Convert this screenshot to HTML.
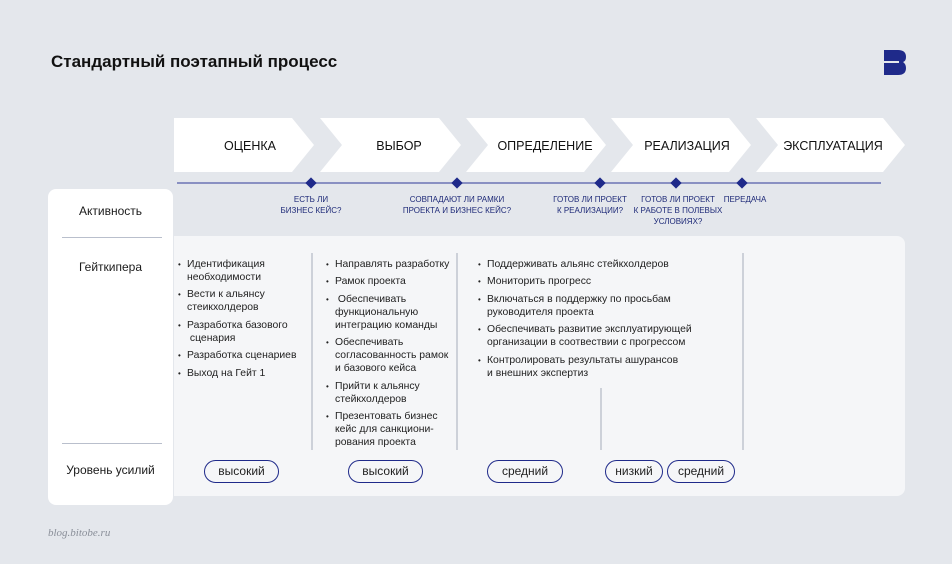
<!DOCTYPE html>
<html><head><meta charset="utf-8"><style>
body{margin:0;width:952px;height:564px;background:#e4e7ec;position:relative;overflow:hidden;font-family:"Liberation Sans","DejaVu Sans",sans-serif;color:#1a1a1a}
.a{position:absolute}
.lbl{position:absolute;font-size:12px;width:125px;text-align:center;left:48px}
.gl{position:absolute;font-size:8px;color:#1e2a78;text-align:center;line-height:11px;text-transform:uppercase;white-space:nowrap}
ul{position:absolute;margin:0;padding:0;list-style:none;font-size:10.4px;line-height:13px;color:#222}
li{position:relative;padding-left:8px;margin-bottom:4.4px}
li:before{content:"•";position:absolute;left:-1px;font-size:8px}
.pill{position:absolute;top:460px;height:21px;border:1.5px solid #1f2a8a;border-radius:12px;font-size:12px;text-align:center;line-height:21px;color:#222}
.vd{position:absolute;width:2px;background:#cdd1d9}
</style></head><body>
<div class="a" style="left:51px;top:52px;font-size:17px;font-weight:bold;color:#111">Стандартный поэтапный процесс</div>
<svg class="a" style="left:880px;top:46px" width="30" height="34"><path d="M4 4 H18 Q26 4 26 11 Q26 15 23 16 Q26 18 26 22 Q26 29 18 29 H4 V17 H19 V15 H4 Z" fill="#1f2a8a"/></svg>
<svg class="a" style="left:0;top:0" width="952" height="200">
<polygon points="174,118 292,118 314,145 292,172 174,172" fill="#fff"/>
<polygon points="320,118 439,118 461,145 439,172 320,172 342,145" fill="#fff"/>
<polygon points="466,118 584,118 606,145 584,172 466,172 488,145" fill="#fff"/>
<polygon points="611,118 729,118 751,145 729,172 611,172 633,145" fill="#fff"/>
<polygon points="756,118 883,118 905,145 883,172 756,172 778,145" fill="#fff"/>
<line x1="177" y1="183" x2="881" y2="183" stroke="#6b73b3" stroke-width="1.5"/>
<g fill="#1f2a8a">
<rect x="307" y="179" width="8" height="8" transform="rotate(45 311 183)"/>
<rect x="453" y="179" width="8" height="8" transform="rotate(45 457 183)"/>
<rect x="596" y="179" width="8" height="8" transform="rotate(45 600 183)"/>
<rect x="672" y="179" width="8" height="8" transform="rotate(45 676 183)"/>
<rect x="738" y="179" width="8" height="8" transform="rotate(45 742 183)"/>
</g>
<g font-size="12.5" text-anchor="middle" fill="#111" font-family="Liberation Sans, sans-serif">
<text x="250" y="150">ОЦЕНКА</text><text x="399" y="150">ВЫБОР</text><text x="545" y="150">ОПРЕДЕЛЕНИЕ</text><text x="687" y="150">РЕАЛИЗАЦИЯ</text><text x="833" y="150">ЭКСПЛУАТАЦИЯ</text>
</g>
</svg>
<div class="gl" style="left:271px;top:194px;width:80px">Есть ли<br>бизнес кейс?</div>
<div class="gl" style="left:397px;top:194px;width:120px">Совпадают ли рамки<br>проекта и бизнес кейс?</div>
<div class="gl" style="left:550px;top:194px;width:80px">Готов ли проект<br>к реализации?</div>
<div class="gl" style="left:633px;top:194px;width:90px">Готов ли проект<br>к работе в полевых<br>условиях?</div>
<div class="gl" style="left:720px;top:194px;width:50px">Передача</div>
<div class="a" style="left:48px;top:189px;width:125px;height:316px;background:#fff;border-radius:8px"></div>
<div class="a" style="left:174px;top:236px;width:731px;height:260px;background:#f5f6f8;border-radius:0 8px 8px 0"></div>
<div class="lbl" style="top:204px">Активность</div>
<div class="a" style="left:62px;top:237px;width:100px;height:1px;background:#b9bfcc"></div>
<div class="lbl" style="top:260px">Гейткипера</div>
<div class="a" style="left:62px;top:443px;width:100px;height:1px;background:#b9bfcc"></div>
<div class="lbl" style="top:463px">Уровень усилий</div>
<div class="vd" style="left:311px;top:253px;height:197px"></div>
<div class="vd" style="left:456px;top:253px;height:197px"></div>
<div class="vd" style="left:600px;top:388px;height:62px"></div>
<div class="vd" style="left:742px;top:253px;height:197px"></div>
<ul style="left:179px;top:258px;width:132px">
<li>Идентификация<br>необходимости</li><li>Вести к альянсу<br>стеикхолдеров</li><li>Разработка базового<br>&nbsp;сценария</li><li>Разработка сценариев</li><li>Выход на Гейт 1</li></ul>
<ul style="left:327px;top:258px;width:130px">
<li>Направлять разработку</li><li>Рамок проекта</li><li>&nbsp;Обеспечивать<br>функциональную<br>интеграцию команды</li><li>Обеспечивать<br>согласованность рамок<br>и базового кейса</li><li>Прийти к альянсу<br>стейкхолдеров</li><li>Презентовать бизнес<br>кейс для санкциони-<br>рования проекта</li></ul>
<ul style="left:479px;top:258px;width:260px">
<li>Поддерживать альянс стейкхолдеров</li><li>Мониторить прогресс</li><li>Включаться в поддержку по просьбам<br>руководителя проекта</li><li>Обеспечивать развитие эксплуатирующей<br>организации в соотвествии с прогрессом</li><li>Контролировать результаты ашурансов<br>и внешних экспертиз</li></ul>
<div class="pill" style="left:204px;width:73px">высокий</div>
<div class="pill" style="left:348px;width:73px">высокий</div>
<div class="pill" style="left:487px;width:74px">средний</div>
<div class="pill" style="left:605px;width:56px">низкий</div>
<div class="pill" style="left:667px;width:66px">средний</div>
<div class="a" style="left:48px;top:527px;font-family:'Liberation Serif',serif;font-style:italic;font-size:11px;color:#8a8f99">blog.bitobe.ru</div>
</body></html>
